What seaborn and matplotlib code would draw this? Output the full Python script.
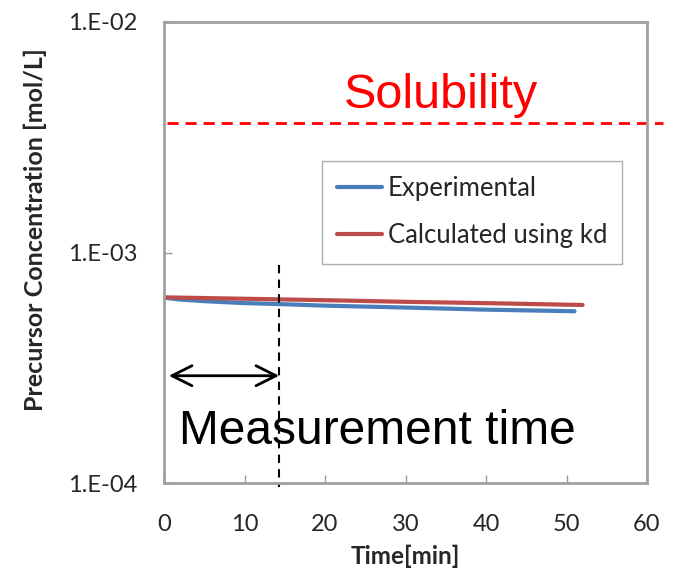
import numpy as np
import pandas as pd
import matplotlib
matplotlib.use("Agg")
import matplotlib.pyplot as plt
import seaborn as sns

# Data
exp_time = [0, 2, 5, 10, 14, 20, 30, 40, 51]
exp_conc = [6.37e-4, 6.25e-4, 6.15e-4, 6.03e-4, 5.98e-4, 5.88e-4, 5.77e-4, 5.65e-4, 5.56e-4]
calc_time = [0, 10, 20, 30, 40, 52]
calc_conc = [6.39e-4, 6.30e-4, 6.21e-4, 6.11e-4, 6.03e-4, 5.92e-4]
solubility = 3.64e-3
measurement_time = 14.3

yticks = [1e-4, 1e-3, 1e-2]
ytick_labels = ["1.E-04", "1.E-03", "1.E-02"]
xticks = [0, 10, 20, 30, 40, 50, 60]

df = pd.concat([
    pd.DataFrame({"Time": exp_time, "Conc": exp_conc, "Series": "Experimental"}),
    pd.DataFrame({"Time": calc_time, "Conc": calc_conc, "Series": "Calculated using kd"}),
])

sns.set_theme(style="white")
plt.rcParams['font.family'] = ['Lato', 'DejaVu Sans']

fig = plt.figure(figsize=(6.82, 5.72), dpi=100)
ax = fig.add_axes([164/682, 1 - 483/572, (647-164)/682, (483-22)/572])

sns.lineplot(data=df, x="Time", y="Conc", hue="Series",
             palette={"Experimental": "#4a7ebb", "Calculated using kd": "#be4b48"},
             linewidth=3, ax=ax, legend=True)

ax.set_yscale("log")
ax.set_xlim(0, 60)
ax.set_ylim(1e-4, 1e-2)
ax.set_yticks(yticks)
ax.set_yticklabels(ytick_labels)
ax.yaxis.set_minor_locator(matplotlib.ticker.NullLocator())
ax.set_xticks(xticks)
ax.tick_params(axis="both", direction="in", length=6, width=1, color="#999999",
               labelsize=17, left=True, bottom=True)
ax.tick_params(axis="x", pad=22)
ax.tick_params(axis="y", pad=19)
for s in ax.spines.values():
    s.set_color("#a0a0a0")
    s.set_linewidth(2)

ax.set_xlabel("Time[min]", fontsize=17.5, fontweight="bold", va="center")
ax.xaxis.set_label_coords((405-164)/483, -(556-483)/461)
ax.set_ylabel("Precursor Concentration [mol/L]", fontsize=18, fontweight="bold", va="center")
ax.yaxis.set_label_coords((35-164)/483, 1-(230-22)/461)

# Solubility line
ax.plot([0.4, 62], [solubility, solubility], color="red", linestyle=(0, (4, 2.5)),
        linewidth=2, clip_on=False)
ax.text(34.4, 4.82e-3, "Solubility", color="red", fontsize=35, ha="center", va="center",
        family=["Liberation Sans", "DejaVu Sans"])

# Measurement time marker
ax.plot([measurement_time, measurement_time], [8.8e-4, 0.96e-4], color="black",
        linestyle=(0, (4, 3)), linewidth=1.5, clip_on=False)
ax.annotate("", xy=(0.6, 2.92e-4), xytext=(measurement_time, 2.92e-4),
            arrowprops=dict(arrowstyle="<->,head_length=1.2,head_width=0.6", color="black", lw=2,
                            shrinkA=0, shrinkB=0))
ax.text(26.5, 1.68e-4, "Measurement time", color="black", fontsize=34.5, ha="center", va="center",
        family=["Liberation Sans", "DejaVu Sans"])

leg = ax.legend(loc="upper left", bbox_to_anchor=((322-164)/483, 1 - (161-22)/461),
                borderaxespad=0, fontsize=18.5, frameon=True, fancybox=False, handlelength=1.75,
                handletextpad=0.2, borderpad=0.6, labelspacing=0.85, title=None)
leg.get_frame().set_edgecolor("#999999")
leg.get_frame().set_linewidth(1)
for line in leg.get_lines():
    line.set_linewidth(3)

fig.savefig("out.png", dpi=100)
